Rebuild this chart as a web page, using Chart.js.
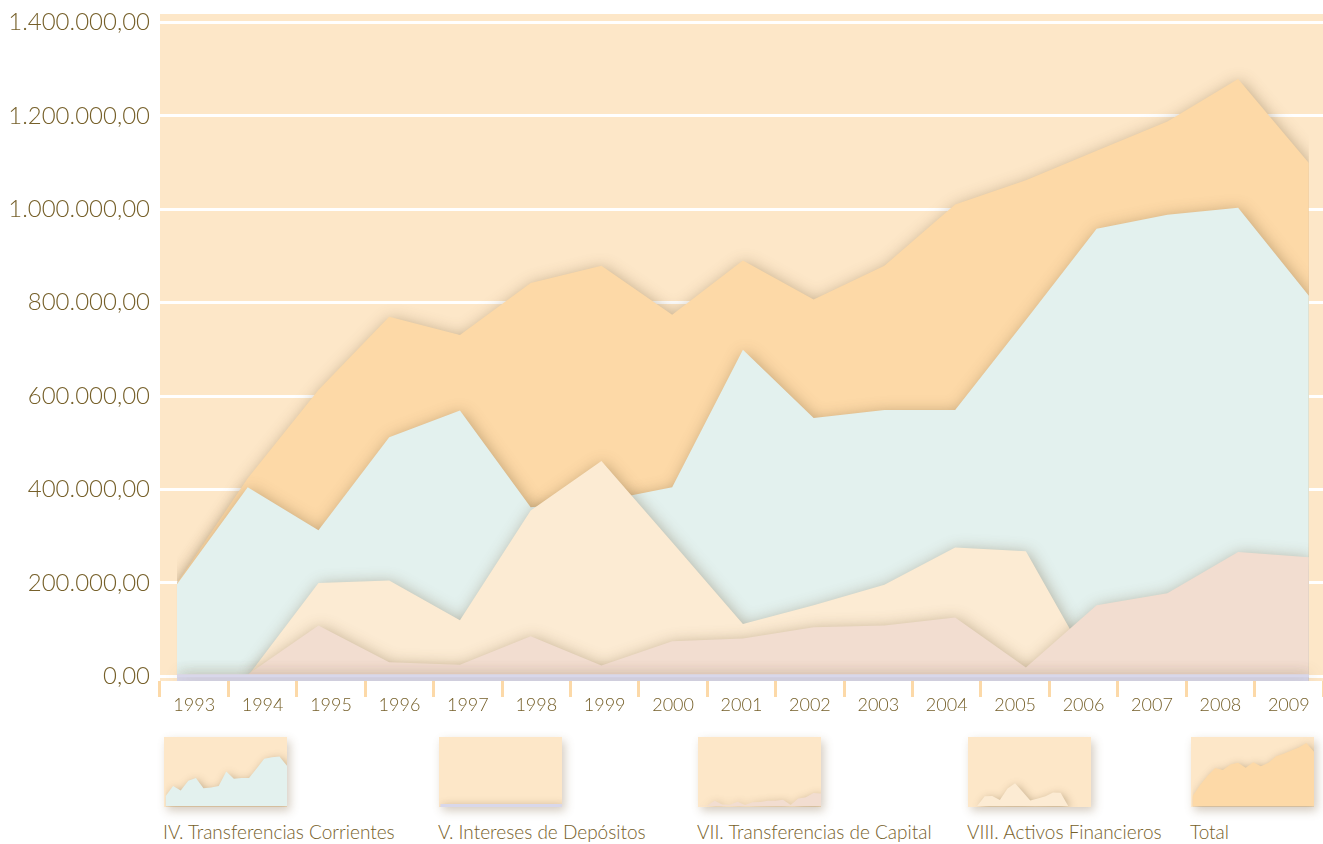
<!DOCTYPE html>
<html>
<head>
<meta charset="utf-8">
<script src="https://cdn.jsdelivr.net/npm/chart.js@4"></script>
<style>
  body { margin: 0; background: #fff; font-family: Lato, sans-serif; }
  #wrap { position: relative; width: 1323px; height: 844px; }
  #main { position: absolute; left: 0; top: 0; width: 1323px; height: 720px; }
  .thumb { position: absolute; top: 737px; width: 123px; height: 70px; box-shadow: 3px 4px 9px rgba(120, 90, 50, 0.3); }
  .lbl { position: absolute; top: 820px; font-size: 19px; color: #76602a; white-space: nowrap; font-weight: 300; }
</style>
</head>
<body>
<div id="wrap">
  <div id="main"><canvas id="chart"></canvas></div>
</div>
<script>
// years on the x axis
const years = ['1993','1994','1995','1996','1997','1998','1999','2000','2001','2002','2003','2004','2005','2006','2007','2008','2009']

// values (euros)
const transfCorrientes = [197000, 405000, 313000, 512000, 569000, 362000, 375000, 405000, 699000, 553000, 570000, 570000, 763000, 958000, 988000, 1003000, 815000]
const interesesDepositos = [1500, 1500, 1500, 1500, 1500, 1500, 1500, 1500, 1500, 1500, 1500, 1500, 1500, 1500, 1500, 1500, 1500]
const transfCapital = [4000, 4000, 109000, 30000, 25000, 86000, 23000, 75000, 81000, 105000, 109000, 126000, 19000, 152000, 178000, 266000, 255000]
const activosFinancieros = [0, 0, 200000, 205000, 120000, 355000, 461000, 287000, 112000, 152000, 196000, 276000, 268000, 0, 0, 0, 0]
const total = [200000, 424000, 613000, 770000, 731000, 842000, 879000, 774000, 890000, 807000, 879000, 1010000, 1062000, 1125000, 1188000, 1279000, 1099000]

const seriesNames = ['IV. Transferencias Corrientes', 'V. Intereses de Depósitos', 'VII. Transferencias de Capital', 'VIII. Activos Financieros', 'Total']
const yTicks = [0, 200000, 400000, 600000, 800000, 1000000, 1200000, 1400000]

const BG = '#fde7c8'
const TXT = '#76602a'
const colors = {
  corr: '#e3f1ee',
  inter: '#d8d7ea',
  cap: '#f2ddd0',
  act: '#fcebd3',
  total: '#fdd9a7'
}

function fmt(v) {
  return Math.round(v).toString().replace(/\B(?=(\d{3})+(?!\d))/g, '.') + ',00'
}

function pts(vals) {
  return vals.map((v, i) => ({ x: Number(years[i]), y: v }))
}

function area(label, vals, color, fillTo) {
  return {
    label: label,
    data: pts(vals),
    backgroundColor: color,
    borderColor: color,
    borderWidth: 0,
    pointRadius: 0,
    tension: 0,
    fill: fillTo || 'origin',
    xAxisID: 'x'
  }
}

// peach plot background + soft shadow under every filled area
const paperPlugin = {
  id: 'paper',
  beforeDraw(chart) {
    const a = chart.chartArea
    const ctx = chart.ctx
    ctx.save()
    ctx.fillStyle = BG
    ctx.fillRect(a.left, a.top, a.right - a.left, a.bottom - a.top)
    ctx.restore()
  },
  beforeDatasetsDraw(chart) {
    const ctx = chart.ctx
    ctx.save()
    ctx.shadowColor = 'rgba(105, 80, 45, 0.42)'
    ctx.shadowBlur = chart.options.shadowBlur || 15
    ctx.shadowOffsetX = 2
    ctx.shadowOffsetY = 2
  },
  afterDatasetsDraw(chart) {
    chart.ctx.restore()
  }
}

// datasets: first one in the list is drawn on top
const mainDatasets = [
  Object.assign(area(seriesNames[1], interesesDepositos, colors.inter, 'start'), { borderWidth: 3 }),
  area(seriesNames[2], transfCapital, colors.cap),
  area(seriesNames[3], activosFinancieros, colors.act),
  area(seriesNames[0], transfCorrientes, colors.corr),
  area(seriesNames[4], total, colors.total)
]

new Chart(document.getElementById('chart'), {
  type: 'line',
  data: { labels: years, datasets: mainDatasets },
  plugins: [paperPlugin],
  options: {
    responsive: true,
    maintainAspectRatio: false,
    animation: false,
    layout: { padding: { top: 14, right: 0, left: 0, bottom: 0 } },
    plugins: { legend: { display: false }, tooltip: { enabled: false } },
    scales: {
      x: {
        type: 'linear',
        display: false,
        min: 1992.76,
        max: 2009.2
      },
      xl: {
        type: 'category',
        position: 'bottom',
        labels: years,
        offset: true,
        border: { display: false },
        grid: { offset: true, drawOnChartArea: false, color: '#fcd9a8', lineWidth: 3, tickLength: 16 },
        ticks: { color: TXT, font: { family: 'Lato', size: 18, weight: 300 }, padding: -3, maxRotation: 0, autoSkip: false },
        afterFit(s) { s.height = 39; s.paddingLeft = 0; s.paddingRight = 0 }
      },
      y: {
        min: -10000,
        max: 1418000,
        z: 1,
        border: { display: false },
        grid: { color: '#ffffff', lineWidth: 3, drawTicks: false },
        afterBuildTicks(s) { s.ticks = yTicks.map(v => ({ value: v })) },
        ticks: { color: TXT, font: { family: 'Lato', size: 24, weight: 300 }, padding: 10, callback: v => fmt(v) },
        afterFit(s) { s.width = 160; s.paddingTop = 0; s.paddingBottom = 0 }
      }
    }
  }
})

// small legend pictures, one little chart per series
const thumbs = [
  { name: seriesNames[0], vals: transfCorrientes, color: colors.corr, left: 164 },
  { name: seriesNames[1], vals: interesesDepositos, color: colors.inter, left: 439, line: 4 },
  { name: seriesNames[2], vals: transfCapital, color: colors.cap, left: 698 },
  { name: seriesNames[3], vals: activosFinancieros, color: colors.act, left: 968 },
  { name: seriesNames[4], vals: total, color: colors.total, left: 1191 }
]

const wrap = document.getElementById('wrap')
thumbs.forEach(t => {
  const box = document.createElement('div')
  box.className = 'thumb'
  box.style.left = t.left + 'px'
  const cv = document.createElement('canvas')
  box.appendChild(cv)
  wrap.appendChild(box)

  const lbl = document.createElement('div')
  lbl.className = 'lbl'
  lbl.style.left = (t.left - 1) + 'px'
  lbl.textContent = t.name
  wrap.appendChild(lbl)

  const ds = area(t.name, t.vals, t.color, t.line ? 'start' : 'origin')
  if (t.line) ds.borderWidth = t.line

  new Chart(cv, {
    type: 'line',
    data: { labels: years, datasets: [ds] },
    plugins: [paperPlugin],
    options: {
      responsive: true,
      maintainAspectRatio: false,
      animation: false,
      shadowBlur: 8,
      layout: { padding: 0 },
      plugins: { legend: { display: false }, tooltip: { enabled: false } },
      scales: {
        x: { type: 'linear', display: false, min: 1992.8, max: 2009 },
        y: { display: false, min: -20000, max: 1400000 }
      }
    }
  })
})
</script>
</body>
</html>
